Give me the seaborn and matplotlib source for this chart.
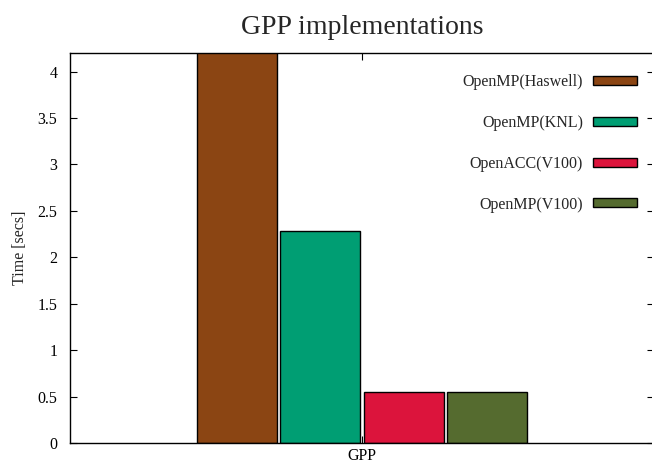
import pandas as pd
import matplotlib
matplotlib.use("Agg")
import matplotlib.pyplot as plt
import seaborn as sns
from matplotlib.ticker import FormatStrFormatter, MultipleLocator

# data
kernels = ["GPP"]
implementations = ["OpenMP(Haswell)", "OpenMP(KNL)", "OpenACC(V100)", "OpenMP(V100)"]
times = [4.6, 2.28, 0.55, 0.55]  # Haswell bar runs past the top of the axis
colors = ["#8b4513", "#009e73", "#dc143c", "#556b2f"]

df = pd.DataFrame({
    "Kernel": kernels * len(implementations),
    "Implementation": implementations,
    "Time": times,
})

sns.set_theme(style="ticks")
plt.rcParams["font.family"] = ["Liberation Serif", "DejaVu Serif"]
plt.rcParams["xtick.direction"] = "in"
plt.rcParams["ytick.direction"] = "in"

fig = plt.figure(figsize=(6.52, 4.65), dpi=100)
ax = fig.add_axes([70 / 652, 22 / 465, 584 / 652, 390 / 465])

sns.barplot(
    data=df, x="Kernel", y="Time", hue="Implementation",
    hue_order=implementations, palette=colors,
    width=1.14, gap=0.04, edgecolor="black", linewidth=1.0,
    saturation=1, ax=ax,
)

ax.set_xlim(-1, 1)
ax.set_ylim(0, 4.2)
ax.yaxis.set_major_locator(MultipleLocator(0.5))
ax.yaxis.set_major_formatter(FormatStrFormatter("%g"))
ax.tick_params(axis="both", labelsize=11.5, length=5, width=0.8,
               top=True, right=True, colors="black")
ax.tick_params(axis="y", pad=9)
ax.tick_params(axis="x", pad=3.5)
for side in ["left", "right", "top", "bottom"]:
    ax.spines[side].set_visible(True)
    ax.spines[side].set_linewidth(1.0)
    ax.spines[side].set_color("black")

ax.set_xlabel("")
ax.set_ylabel("Time [secs]", fontsize=11.5, labelpad=7)
ax.set_title("GPP implementations", fontsize=20, pad=14)

handles, labels = ax.get_legend_handles_labels()
ax.legend(handles, labels, loc="upper right", bbox_to_anchor=(0.985, 0.966),
          frameon=False, markerfirst=False, fontsize=11.5,
          handlelength=2.8, handleheight=0.5, labelspacing=1.55,
          borderpad=0, handletextpad=0.6)

fig.savefig("out.png", dpi=100)
